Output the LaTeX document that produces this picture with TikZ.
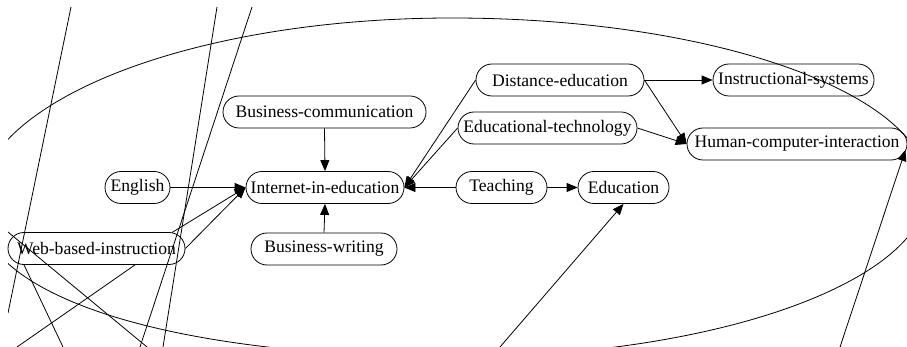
\documentclass[tikz,border=0pt]{standalone}
\usepackage{fontspec}
\setmainfont{Liberation Serif}
\newfontfamily\graphfont{Liberation Serif}
\usetikzlibrary{shapes.misc,arrows.meta}
\begin{document}
\begin{tikzpicture}[x=1pt,y=-1pt,
  box/.style={draw, line width=0.8pt, rounded rectangle, minimum height=32pt,
    inner xsep=0pt, inner ysep=0pt, font=\graphfont\fontsize{17.6}{20}\selectfont},
  edge/.style={draw, line width=0.8pt, -{Triangle[length=11pt,width=9pt]}},
  stray/.style={draw, line width=0.8pt}]
\useasboundingbox (0,0) rectangle (907,347);
% nodes
\node[box, minimum width=203pt] (bc)    at (324.5,112)  {Business-communication};
\node[box, minimum width=65pt]  (eng)   at (137.5,187.5){English};
\node[box, minimum width=158pt] (inet)  at (325,187.5)  {Internet-in-education};
\node[box, minimum width=91pt]  (teach) at (501.5,187.5){Teaching};
\node[box, minimum width=91pt]  (edu)   at (623.5,187.5){Education};
\node[box, minimum width=177pt] (web)   at (96.5,248.5) {Web-based-instruction};
\node[box, minimum width=146pt] (bw)    at (324,249)    {Business-writing};
\node[box, minimum width=168pt] (dist)  at (560,80)     {Distance-education};
\node[box, minimum width=179pt] (edt)   at (547.5,128)  {Educational-technology};
\node[box, minimum width=161pt] (instr) at (793.5,80)   {Instructional-systems};
\node[box, minimum width=220pt] (hci)   at (797,144)    {Human-computer-interaction};
% edges
\path[edge] (bc.south) -- (inet.north);
\path[edge] (bw.north) -- (inet.south);
\path[edge] (eng.east) -- (inet.west);
\path[edge] (web.12) -- (inet.west);
\path[edge] (web.east) -- (inet.west);
\path[edge] (dist.west) -- (inet.east);
\path[edge] (edt.west) -- (inet.east);
\path[edge] (teach.west) -- (inet.east);
\path[edge] (teach.east) -- (edu.west);
\path[edge] (dist.east) -- (instr.west);
\path[edge] (dist.east) -- (hci.west);
\path[edge] (edt.east) -- (hci.west);
% stray strokes, clipped
\begin{scope}
\clip (8,7) rectangle (907,347);
\draw[line width=0.8pt] (-22,205) .. controls (-22,101.7) and (190.2,18) .. (452,18)
  .. controls (714.9,18) and (928,94.1) .. (928,188)
  .. controls (928,281.3) and (716.2,357) .. (455,357)
  .. controls (168.8,357) and (-22,296.2) .. cycle;
\coordinate (a1) at (71,7);   \coordinate (a2) at (8,313);
\coordinate (b1) at (217,7);  \coordinate (b2) at (163,347);
\coordinate (c1) at (252,7);  \coordinate (c2) at (140,347);
\coordinate (d1) at (8,232);  \coordinate (d2) at (147,347);
\coordinate (e2) at (63,347);
\coordinate (f2) at (17,347);
\coordinate (g1) at (500,347);
\coordinate (h1) at (840,347);
\path[stray] (a1) -- (a2);
\path[stray] (b1) -- (b2);
\path[stray] (c1) -- (c2);
\path[stray] (d1) -- (d2);
\path[stray] (web.south west) -- (e2);
\path[stray] ([xshift=38.5pt]web.south) -- (f2);
\path[edge] (g1) -- (edu.south);
\path[edge] (h1) -- ([xshift=-2pt,yshift=-6pt]hci.east);
\end{scope}
\end{tikzpicture}
\end{document}
